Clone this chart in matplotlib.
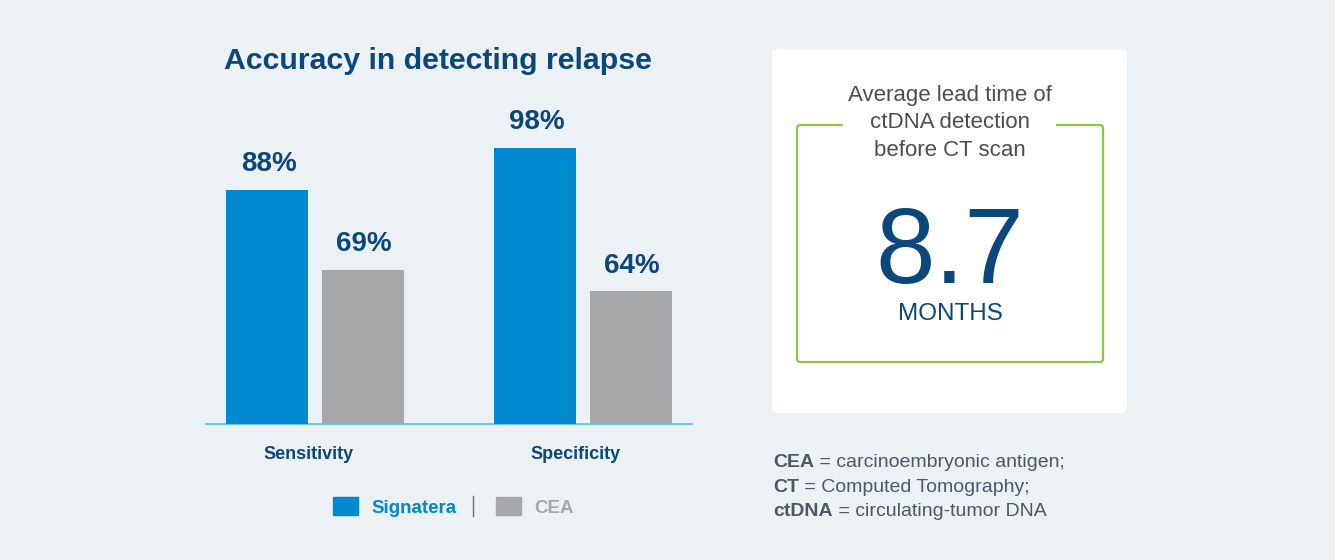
import matplotlib.pyplot as plt
from matplotlib.patches import FancyBboxPatch, Rectangle

plt.rcParams['font.family'] = ['Liberation Sans', 'DejaVu Sans']

# data
categories = ['Sensitivity', 'Specificity']
series_names = ['Signatera', 'CEA']
signatera = [88, 98]
cea = [69, 64]
lead_time = 8.7
lead_unit = 'MONTHS'
lead_caption = ['Average lead time of', 'ctDNA detection', 'before CT scan']
footnotes = [('CEA', ' = carcinoembryonic antigen;'),
             ('CT', ' = Computed Tomography;'),
             ('ctDNA', ' = circulating-tumor DNA')]

BG = '#ECF1F6'
BLUE = '#0089CE'
GRAY = '#A7A8AA'
NAVY = '#0B477A'
LINE = '#62C9EC'
GREEN = '#8DC63F'
TXT = '#4D4D4F'
NOTE = '#4F5862'

W, H = 1335, 560
fig = plt.figure(figsize=(W / 100, H / 100), dpi=100, facecolor=BG)

# decoration layer in pixel coords (y down)
deco = fig.add_axes([0, 0, 1, 1], zorder=0)
deco.set_xlim(0, W)
deco.set_ylim(H, 0)
deco.axis('off')

# bar chart axes: x from 206 to 692 px, y from 100 to 424 px
ax = fig.add_axes([206 / W, (H - 424) / H, (692 - 206) / W, (424 - 100) / H], zorder=2)
ax.patch.set_visible(False)

x = [0, 1]
bw = 0.306
off = 0.178
bars1 = ax.bar([i - off for i in x], signatera, width=bw, color=BLUE, zorder=3)
bars2 = ax.bar([i + off for i in x], cea, width=bw, color=GRAY, zorder=3)
ax.set_xlim(-0.407, 1.407)
ax.set_ylim(32.5, 109.4)

for bars, vals in [(bars1, signatera), (bars2, cea)]:
    for b, v in zip(bars, vals):
        ax.annotate(f'{v}%', xy=(b.get_x() + b.get_width() / 2, v),
                    xytext=(1, 13.5), textcoords='offset points',
                    ha='center', va='baseline', fontsize=20,
                    fontweight='bold', color=NAVY)

for spine in ['top', 'right', 'left']:
    ax.spines[spine].set_visible(False)
ax.spines['bottom'].set_color(LINE)
ax.spines['bottom'].set_linewidth(1.3)
ax.set_yticks([])
ax.set_xticks([])
for i, c in zip(x, categories):
    ax.annotate(c, xy=(i, 0), xycoords=('data', 'axes fraction'),
                xytext=(-5, -25.5), textcoords='offset points',
                ha='center', va='baseline', fontsize=13,
                fontweight='bold', color=NAVY)

# title
fig.text(438 / W, (H - 69) / H, 'Accuracy in detecting relapse', ha='center',
         va='baseline', fontsize=21.8, fontweight='bold', color=NAVY)

# legend
deco.add_patch(Rectangle((333, 497), 25, 18, color=BLUE))
deco.text(371, 513, series_names[0], fontsize=13.5, fontweight='bold',
          color=BLUE, va='baseline')
deco.plot([473, 473], [496, 516], color='#6D6E71', lw=1)
deco.add_patch(Rectangle((496, 497), 25, 18, color=GRAY))
deco.text(534, 513, series_names[1], fontsize=13.5, fontweight='bold',
          color=GRAY, va='baseline')

# right panel
deco.add_patch(FancyBboxPatch((776, 53), 347, 356, boxstyle='round,pad=4,rounding_size=5',
                              facecolor='white', edgecolor='none'))
deco.add_patch(FancyBboxPatch((799, 127), 302, 233, boxstyle='round,pad=2,rounding_size=3',
                              facecolor='none', edgecolor=GREEN, lw=1.6))
deco.add_patch(Rectangle((843, 118), 213, 14, facecolor='white', edgecolor='none', zorder=3))

for k, line in enumerate(lead_caption):
    deco.text(950, 101 + k * 27.5, line, ha='center', va='baseline',
              fontsize=16, color=TXT, zorder=4)
deco.text(950, 283, f'{lead_time}', ha='center', va='baseline', fontsize=77,
          color=NAVY, zorder=4)
deco.text(950, 320, lead_unit, ha='center', va='baseline', fontsize=17.5,
          color=NAVY, zorder=4)

# footnotes
for k, (abbr, rest) in enumerate(footnotes):
    t = deco.text(773, 467 + k * 24.5, abbr, fontsize=14, fontweight='bold',
                  color=NOTE, va='baseline')
    deco.annotate(rest, xy=(1, 0), xycoords=t, ha='left', va='bottom',
                  fontsize=14, color=NOTE)

fig.savefig('out.png', dpi=100, facecolor=BG)
